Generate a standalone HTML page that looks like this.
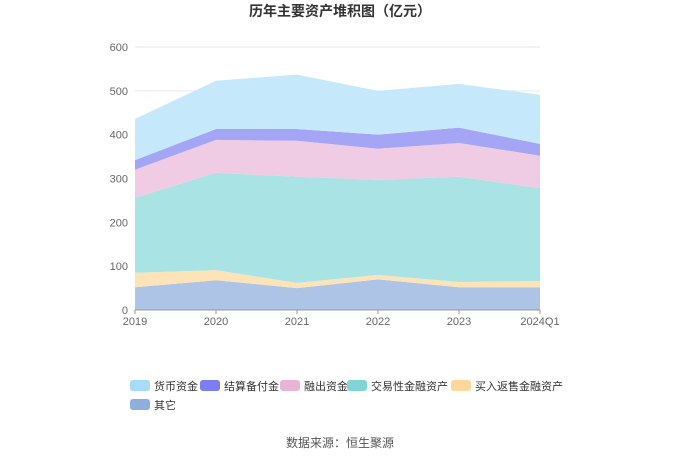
<!DOCTYPE html>
<html><head><meta charset="utf-8"><style>
body{margin:0;background:#fff;font-family:"Liberation Sans","Noto Sans CJK SC",sans-serif}
svg text{font-family:"Liberation Sans","Noto Sans CJK SC",sans-serif}
</style></head><body>
<svg id="c" width="680" height="460" xmlns="http://www.w3.org/2000/svg">
<text x="340" y="16" text-anchor="middle" font-size="14" font-weight="bold" fill="#333">历年主要资产堆积图（亿元）</text>
<g id="grid"></g><g id="areas"></g><g id="axes"></g><g id="legend"></g>
<text x="340" y="447" text-anchor="middle" font-size="12" fill="#555">数据来源：恒生聚源</text>
</svg>
<script>
const categories=["2019","2020","2021","2022","2023","2024Q1"];
const seriesNames=["其它","买入返售金融资产","交易性金融资产","融出资金","结算备付金","货币资金"];
const other=[52,68,50,70,52,52];
const buyback=[33,23,12,10,12,14];
const trading=[171,222,242,217,240,212];
const lending=[64,75,82,71,77,74];
const settlement=[22,25,27,32,35,27];
const cash=[94,110,124,100,100,112];
const yTicks=[0,100,200,300,400,500,600];
const series=[other,buyback,trading,lending,settlement,cash];
const fills=["#aec4e6","#fde4b8","#aae3e3","#f0cce4","#a4a6f5","#c5e9fb"];
const legendColors=["#8eaedb","#fdd89a","#7fd4d4","#e8b5d8","#7b7ef0","#a6dcf6"];
const NS="http://www.w3.org/2000/svg";
const X0=135,X1=540,Y0=310,Y1=47;
const xs=i=>X0+(X1-X0)*i/(categories.length-1);
const ys=v=>Y0-(Y0-Y1)*v/600;
function mk(t,a,p){const e=document.createElementNS(NS,t);for(const k in a)e.setAttribute(k,a[k]);p.appendChild(e);return e;}
const grid=document.getElementById('grid'),axes=document.getElementById('axes'),areas=document.getElementById('areas'),legend=document.getElementById('legend');
yTicks.forEach(v=>{
 const l=mk('line',{x1:X0,x2:X1,y1:ys(v),y2:ys(v),stroke:'#e6e6f0'},grid);
 
 
 const t=mk('text',{x:X0-7,y:ys(v)+4,'text-anchor':'end','font-size':11,fill:'#666'},axes);t.textContent=v;
 
 
});
const ax=mk('line',{x1:X0,x2:X1,y1:Y0,y2:Y0,stroke:'#999'},axes);


categories.forEach((c,i)=>{
 mk('line',{x1:xs(i),x2:xs(i),y1:Y0,y2:Y0+4,stroke:'#999'},axes);
 const t=mk('text',{x:xs(i),y:Y0+15,'text-anchor':'middle','font-size':11,fill:'#666'},axes);t.textContent=c;
 
 
});
let base=categories.map(()=>0);
series.forEach((s,k)=>{
 const top=base.map((b,i)=>b+s[i]);
 let d='M'+top.map((v,i)=>xs(i)+','+ys(v)).join('L');
 for(let i=categories.length-1;i>=0;i--)d+='L'+xs(i)+','+ys(base[i]);
 const p=mk('path',{d:d+'Z',fill:fills[k]},areas);
 
 
 base=top;
});
const legOrder=[5,4,3,2,1,0];
const pos=[[130,386],[200,386],[280,386],[347,386],[451,386],[130,405]];
legOrder.forEach((k,j)=>{
 const g=mk('g',{},legend);
 
 
 mk('rect',{x:pos[j][0],y:pos[j][1]-6,width:20,height:11,rx:3,fill:legendColors[k]},g);
 const t=mk('text',{x:pos[j][0]+24,y:pos[j][1]+4,'font-size':11,fill:'#333'},g);t.textContent=seriesNames[k];
});
</script>
</body></html>
